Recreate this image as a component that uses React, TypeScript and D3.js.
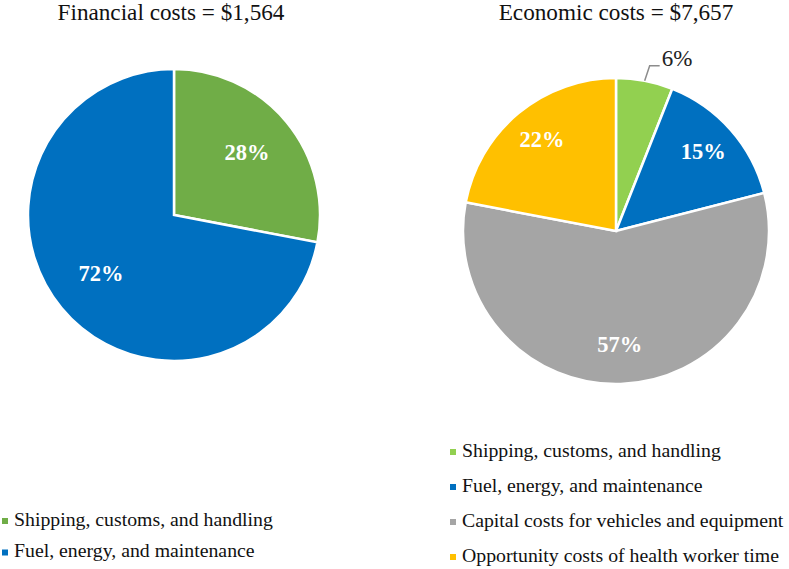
import React from "react";
import * as d3 from "d3";

const finCategories = ["Shipping, customs, and handling", "Fuel, energy, and maintenance"];
const finValues = [28, 72];
const finColors = ["#70AD47", "#0070C0"];

const ecoCategories = [
  "Shipping, customs, and handling",
  "Fuel, energy, and maintenance",
  "Capital costs for vehicles and equipment",
  "Opportunity costs of health worker time",
];
const ecoValues = [6, 15, 57, 22];
const ecoColors = ["#92D050", "#0070C0", "#A5A5A5", "#FFC000"];

const titles = ["Financial costs = $1,564", "Economic costs = $7,657"];

const FONT = "'Liberation Serif', 'Times New Roman', serif";

function Pie({ cx, cy, r, values, colors, labelFrac, outsideIdx }: any) {
  const pie = d3.pie<number>().value((d) => d).sort(null);
  const arcs = pie(values);
  const arc = d3.arc<any>().innerRadius(0).outerRadius(r);
  const labelArc = d3.arc<any>().innerRadius(r * labelFrac).outerRadius(r * labelFrac);
  return (
    <g transform={`translate(${cx},${cy})`}>
      {arcs.map((a, i) => (
        <path key={i} d={arc(a) as string} fill={colors[i]} stroke="#fff" strokeWidth={2.5} />
      ))}
      {arcs.map((a, i) => {
        if (i === outsideIdx) {
          const mid = (a.startAngle + a.endAngle) / 2;
          const p0 = [Math.sin(mid) * r, -Math.cos(mid) * r];
          const p1 = [p0[0] + 5, p0[1] - 15];
          const p2 = [p1[0] + 10, p1[1]];
          return (
            <g key={i}>
              <polyline
                points={`${p0[0]},${p0[1]} ${p1[0]},${p1[1]} ${p2[0]},${p2[1]}`}
                fill="none"
                stroke="#8c8c8c"
                strokeWidth={1.5}
              />
              <text x={p2[0] + 2} y={p2[1]} fontFamily={FONT} fontSize={23} fill="#222">
                {values[i]}%
              </text>
            </g>
          );
        }
        const [x, y] = labelArc.centroid(a);
        return (
          <text
            key={i}
            x={x}
            y={y}
            fontFamily={FONT}
            fontSize={22.5}
            fontWeight="bold"
            fill="#fff"
            textAnchor="middle"
            dominantBaseline="middle"
          >
            {values[i]}%
          </text>
        );
      })}
    </g>
  );
}

function Legend({ x, y, items, colors, step }: any) {
  return (
    <g>
      {items.map((t: string, i: number) => (
        <g key={i} transform={`translate(${x},${y + i * step})`}>
          <rect x={0} y={-3} width={6} height={6} fill={colors[i]} />
          <text x={12} y={0} fontFamily={FONT} fontSize={19.8} fill="#111" dominantBaseline="middle">
            {t}
          </text>
        </g>
      ))}
    </g>
  );
}

export default function App() {
  return (
    <svg width={789} height={569} style={{ display: "block", position: "absolute", left: 0, top: 0, background: "#fff" }}>
      <text x={171} y={15} fontFamily={FONT} fontSize={23.2} fill="#111" textAnchor="middle" dominantBaseline="middle">
        {titles[0]}
      </text>
      <text x={616} y={15} fontFamily={FONT} fontSize={23.2} fill="#111" textAnchor="middle" dominantBaseline="middle">
        {titles[1]}
      </text>
      <Pie cx={174} cy={215} r={146} values={finValues} colors={finColors} labelFrac={0.65} outsideIdx={-1} />
      <Pie cx={616} cy={231} r={153} values={ecoValues} colors={ecoColors} labelFrac={0.76} outsideIdx={0} />
      <Legend x={2} y={521} items={finCategories} colors={finColors} step={31.5} />
      <Legend x={450} y={452} items={ecoCategories} colors={ecoColors} step={35} />
    </svg>
  );
}
